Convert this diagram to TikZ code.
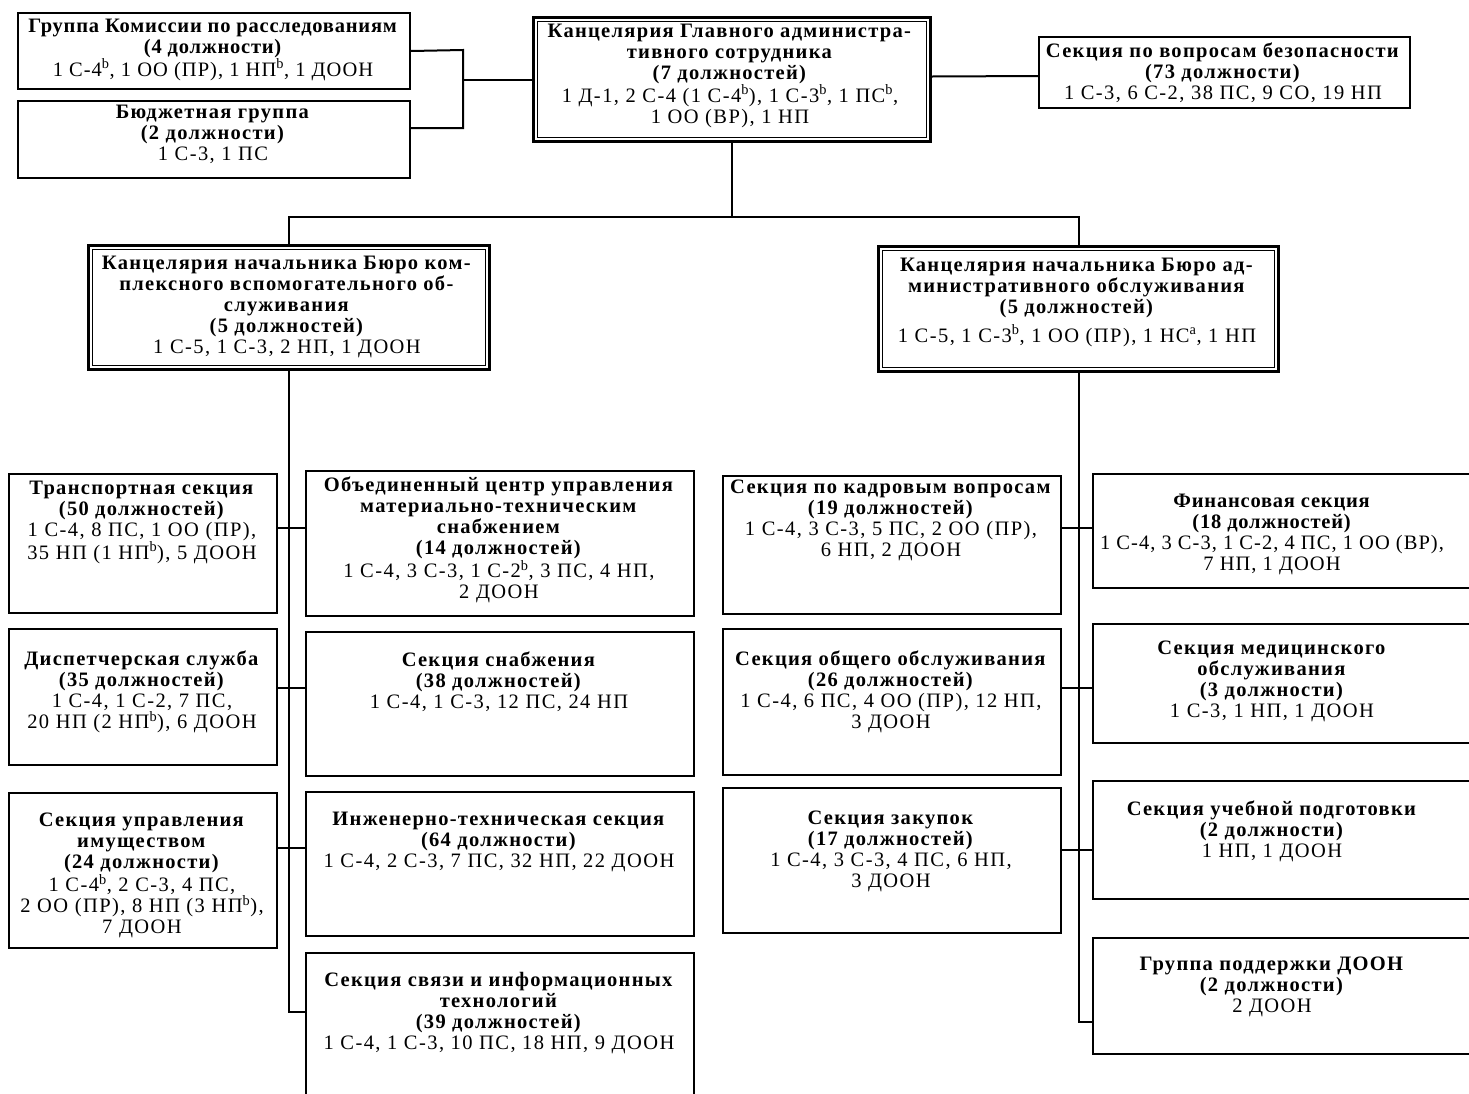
\documentclass[tikz,border=0pt]{standalone}
\usepackage{fontspec}
\setmainfont{Liberation Serif}[LetterSpace=7, BoldFeatures={LetterSpace=6.3}]
\newfontfamily\tightserif{Liberation Serif}[LetterSpace=5, BoldFeatures={LetterSpace=3.8}]
\newcommand{\sps}[1]{\textsuperscript{#1}}
\begin{document}
\begin{tikzpicture}[x=1pt,y=-1pt,
  box/.style={draw, line width=2pt, inner sep=0pt, anchor=north west},
  dbox/.style={draw, line width=3pt, inner sep=0pt, anchor=north west},
  inbox/.style={line width=1.8pt},
  tx/.style={align=center, inner sep=0pt, anchor=north, font=\fontsize{20.5}{21}\selectfont, execute at begin node=\strut},
  tight/.style={font=\tightserif\fontsize{20.5}{21}\selectfont},
  conn/.style={line width=2pt}]
\clip (0,0) rectangle (1469,1093);
\fill[white] (0,0) rectangle (1469,1093);

% top row
\node[box, minimum width=392, minimum height=76] (grp) at (17,12) {};
\node[tx, tight] (grpT) at (213,19) {\textbf{Группа Комиссии по расследованиям}\\\textbf{(4 должности)}\\1 С-4\sps{b}, 1 ОО (ПР), 1 НП\sps{b}, 1 ДООН};
\node[box, minimum width=392, minimum height=77] (bud) at (17,100) {};
\node[tx] (budT) at (213,105) {\textbf{Бюджетная группа}\\\textbf{(2 должности)}\\1 С-3, 1 ПС};

\node[dbox, minimum width=397, minimum height=124] (main) at (532,16) {};
\draw[inbox] ([shift={(5.5pt,-5.5pt)}]main.north west) rectangle ([shift={(-5.5pt,5.5pt)}]main.south east);
\node[tx] (mainT) at (730,24) {\textbf{Канцелярия Главного администра-}\\\textbf{тивного сотрудника}\\\textbf{(7 должностей)}\\1 Д-1, 2 С-4 (1 С-4\sps{b}), 1 С-3\sps{b}, 1 ПС\sps{b},\\1 ОО (ВР), 1 НП};

\node[box, minimum width=371, minimum height=71] (sec) at (1038,36) {};
\node[tx] (secT) at (1223,43) {\textbf{Секция по вопросам безопасности}\\\textbf{(73 должности)}\\1 С-3, 6 С-2, 38 ПС, 9 СО, 19 НП};

% bureaus
\node[dbox, minimum width=401, minimum height=124] (lb) at (87,244) {};
\draw[inbox] ([shift={(5.5pt,-5.5pt)}]lb.north west) rectangle ([shift={(-5.5pt,5.5pt)}]lb.south east);
\node[tx] (lbT) at (287,256) {\textbf{Канцелярия начальника Бюро ком-}\\\textbf{плексного вспомогательного об-}\\\textbf{служивания}\\\textbf{(5 должностей)}\\1 С-5, 1 С-3, 2 НП, 1 ДООН};

\node[dbox, minimum width=400, minimum height=125] (rb) at (877,245) {};
\draw[inbox] ([shift={(5.5pt,-5.5pt)}]rb.north west) rectangle ([shift={(-5.5pt,5.5pt)}]rb.south east);
\node[tx] (rbT) at (1077,258) {\textbf{Канцелярия начальника Бюро ад-}\\\textbf{министративного обслуживания}\\\textbf{(5 должностей)}\\[6pt]1 С-5, 1 С-3\sps{b}, 1 ОО (ПР), 1 НС\sps{a}, 1 НП};

% left branch
\node[box, minimum width=268, minimum height=139] (trans) at (8,473) {};
\node[tx] (transT) at (142,481) {\textbf{Транспортная секция}\\\textbf{(50 должностей)}\\1 С-4, 8 ПС, 1 ОО (ПР),\\35 НП (1 НП\sps{b}), 5 ДООН};
\node[box, minimum width=388, minimum height=145] (obj) at (305,470) {};
\node[tx] (objT) at (499,477) {\textbf{Объединенный центр управления}\\\textbf{материально-техническим}\\\textbf{снабжением}\\\textbf{(14 должностей)}\\1 С-4, 3 С-3, 1 С-2\sps{b}, 3 ПС, 4 НП,\\2 ДООН};

\node[box, minimum width=268, minimum height=136] (disp) at (8,628) {};
\node[tx] (dispT) at (142,651) {\textbf{Диспетчерская служба}\\\textbf{(35 должностей)}\\1 С-4, 1 С-2, 7 ПС,\\20 НП (2 НП\sps{b}), 6 ДООН};
\node[box, minimum width=388, minimum height=144] (supp) at (305,631) {};
\node[tx] (suppT) at (499,652) {\textbf{Секция снабжения}\\\textbf{(38 должностей)}\\1 С-4, 1 С-3, 12 ПС, 24 НП};

\node[box, minimum width=268, minimum height=155] (prop) at (8,792) {};
\node[tx] (propT) at (142,813) {\textbf{Секция управления}\\\textbf{имуществом}\\\textbf{(24 должности)}\\1 С-4\sps{b}, 2 С-3, 4 ПС,\\2 ОО (ПР), 8 НП (3 НП\sps{b}),\\7 ДООН};
\node[box, minimum width=388, minimum height=144] (eng) at (305,791) {};
\node[tx] (engT) at (499,812) {\textbf{Инженерно-техническая секция}\\\textbf{(64 должности)}\\1 С-4, 2 С-3, 7 ПС, 32 НП, 22 ДООН};

\node[box, minimum width=388, minimum height=200] (comm) at (305,952) {};
\node[tx] (commT) at (499,972) {\textbf{Секция связи и информационных}\\\textbf{технологий}\\\textbf{(39 должностей)}\\1 С-4, 1 С-3, 10 ПС, 18 НП, 9 ДООН};

% right branch
\node[box, minimum width=338, minimum height=138] (hr) at (722,475) {};
\node[tx] (hrT) at (891,480) {\textbf{Секция по кадровым вопросам}\\\textbf{(19 должностей)}\\1 С-4, 3 С-3, 5 ПС, 2 ОО (ПР),\\6 НП, 2 ДООН};
\node[box, minimum width=338, minimum height=146] (gen) at (722,628) {};
\node[tx] (genT) at (891,651) {\textbf{Секция общего обслуживания}\\\textbf{(26 должностей)}\\1 С-4, 6 ПС, 4 ОО (ПР), 12 НП,\\3 ДООН};
\node[box, minimum width=338, minimum height=145] (proc) at (722,787) {};
\node[tx] (procT) at (891,811) {\textbf{Секция закупок}\\\textbf{(17 должностей)}\\1 С-4, 3 С-3, 4 ПС, 6 НП,\\3 ДООН};

\node[box, minimum width=400, minimum height=114] (fin) at (1092,473) {};
\node[tx, tight] (finT) at (1272,494) {\textbf{Финансовая секция}\\\textbf{(18 должностей)}\\1 С-4, 3 С-3, 1 С-2, 4 ПС, 1 ОО (ВР),\\7 НП, 1 ДООН};
\node[box, minimum width=400, minimum height=119] (med) at (1092,623) {};
\node[tx] (medT) at (1272,641) {\textbf{Секция медицинского}\\\textbf{обслуживания}\\\textbf{(3 должности)}\\1 С-3, 1 НП, 1 ДООН};
\node[box, minimum width=400, minimum height=118] (train) at (1092,780) {};
\node[tx] (trainT) at (1272,801) {\textbf{Секция учебной подготовки}\\\textbf{(2 должности)}\\1 НП, 1 ДООН};
\node[box, minimum width=400, minimum height=116] (doon) at (1092,937) {};
\node[tx] (doonT) at (1272,957) {\textbf{Группа поддержки ДООН}\\\textbf{(2 должности)}\\2 ДООН};

% connectors
\coordinate (jAB) at (463,50);
\draw[conn] (grp.east) -- (jAB) |- ([yshift=11.5pt]bud.east);
\draw[conn] (jAB |- main.west) -- (main.west);
\draw[conn] ([yshift=3pt]main.east) -- ([yshift=-3.5pt]sec.west);

\coordinate (bus) at (0,217);
\draw[conn] (main.south) -- (main.south |- bus);
\draw[conn] (lb.north) |- (bus -| rb.north) -- (rb.north);

\coordinate (r1) at (0,528);
\coordinate (r2) at (0,688);
\coordinate (r3) at (0,848);
\coordinate (r4) at (0,1012);
\coordinate (q3) at (0,850);
\coordinate (q4) at (0,1022);
\draw[conn] (lb.south) -- (lb.south |- r4) -- (r4 -| comm.west);
\draw[conn] (r1 -| trans.east) -- (r1 -| obj.west);
\draw[conn] (r2 -| disp.east) -- (r2 -| supp.west);
\draw[conn] (r3 -| prop.east) -- (r3 -| eng.west);

\draw[conn] (rb.south) -- (rb.south |- q4) -- (q4 -| doon.west);
\draw[conn] (r1 -| hr.east) -- (r1 -| fin.west);
\draw[conn] (r2 -| gen.east) -- (r2 -| med.west);
\draw[conn] (q3 -| proc.east) -- (q3 -| train.west);
\end{tikzpicture}
\end{document}
